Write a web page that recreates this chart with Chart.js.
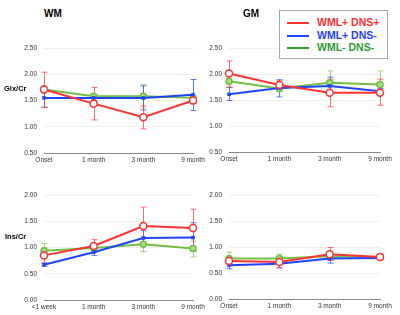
<!DOCTYPE html>
<html><head><meta charset="utf-8">
<script src="https://cdn.jsdelivr.net/npm/chart.js@4.4.0/dist/chart.umd.min.js"></script>
<style>
body{margin:0;width:400px;height:315px;background:#fff;position:relative;overflow:hidden;font-family:"Liberation Sans",Arial,sans-serif;}
.c{position:absolute;}
.t{position:absolute;font-weight:bold;color:#000;white-space:nowrap;line-height:1;}
#leg{position:absolute;left:279px;top:10px;width:107px;height:47px;border:1px solid #a8a8a8;background:#fff;}
.li{position:absolute;left:7px;width:22px;height:2px;}
.lt{position:absolute;left:37px;font-weight:bold;font-size:10.5px;line-height:1;white-space:nowrap;}
</style></head><body>
<div class="c" style="left:0;top:30px;width:215px;height:140px"><canvas id="c1"></canvas></div>
<div class="c" style="left:200px;top:30px;width:200px;height:140px"><canvas id="c2"></canvas></div>
<div class="c" style="left:0;top:180px;width:215px;height:135px"><canvas id="c3"></canvas></div>
<div class="c" style="left:200px;top:180px;width:200px;height:135px"><canvas id="c4"></canvas></div>
<div class="t" style="left:44px;top:9px;font-size:10px">WM</div>
<div class="t" style="left:243px;top:9px;font-size:10px">GM</div>
<div class="t" style="left:4px;top:85px;font-size:7.5px">Glx/Cr</div>
<div class="t" style="left:5px;top:233px;font-size:7.5px">Ins/Cr</div>
<div id="leg">
  <div class="li" style="top:11px;background:#ff3333"></div><div class="lt" style="top:6px;color:#ff2f2f">WML+ DNS+</div>
  <div class="li" style="top:24px;background:#2244ff"></div><div class="lt" style="top:19px;color:#1f3fff">WML+ DNS-</div>
  <div class="li" style="top:36px;background:#339933"></div><div class="lt" style="top:31px;color:#2e9a36">WML- DNS-</div>
</div>
<script>
// categories
const catsGlx = ["Onset", "1 month", "3 month", "9 month"];
const catsInsWM = ["<1 week", "1 month", "3 month", "9 month"];
const catsInsGM = ["Onset", "1 month", "3 month", "9 month"];
const seriesNames = ["WML+ DNS+", "WML+ DNS-", "WML- DNS-"];

// WM Glx/Cr
const wmGlxRed = [1.71, 1.44, 1.18, 1.50];
const wmGlxRedHi = [2.04, 1.75, 1.40, 1.56];
const wmGlxRedLo = [1.37, 1.13, 0.96, 1.44];
const wmGlxBlue = [1.55, 1.55, 1.55, 1.61];
const wmGlxBlueHi = [1.70, 1.60, 1.78, 1.90];
const wmGlxBlueLo = [1.37, 1.50, 1.32, 1.31];
const wmGlxGreen = [1.71, 1.58, 1.58, 1.55];
const wmGlxGreenHi = [1.78, 1.62, 1.80, 1.60];
const wmGlxGreenLo = [1.64, 1.54, 1.36, 1.50];

// GM Glx/Cr
const gmGlxRed = [2.01, 1.79, 1.64, 1.64];
const gmGlxRedHi = [2.25, 1.87, 1.90, 1.90];
const gmGlxRedLo = [1.75, 1.71, 1.37, 1.40];
const gmGlxBlue = [1.61, 1.73, 1.77, 1.67];
const gmGlxBlueHi = [1.74, 1.89, 1.94, 1.72];
const gmGlxBlueLo = [1.49, 1.56, 1.62, 1.62];
const gmGlxGreen = [1.86, 1.72, 1.83, 1.80];
const gmGlxGreenHi = [1.92, 1.78, 2.06, 2.06];
const gmGlxGreenLo = [1.80, 1.66, 1.62, 1.60];

// WM Ins/Cr
const wmInsRed = [0.85, 1.03, 1.41, 1.37];
const wmInsRedHi = [0.99, 1.15, 1.77, 1.73];
const wmInsRedLo = [0.71, 0.91, 1.05, 1.01];
const wmInsBlue = [0.67, 0.91, 1.18, 1.19];
const wmInsBlueHi = [0.70, 0.96, 1.32, 1.47];
const wmInsBlueLo = [0.64, 0.85, 1.05, 0.93];
const wmInsGreen = [0.94, 0.99, 1.06, 0.98];
const wmInsGreenHi = [1.08, 1.06, 1.20, 1.12];
const wmInsGreenLo = [0.80, 0.92, 0.92, 0.82];

// GM Ins/Cr
const gmInsRed = [0.73, 0.71, 0.86, 0.81];
const gmInsRedHi = [0.80, 0.78, 0.99, 0.86];
const gmInsRedLo = [0.66, 0.60, 0.74, 0.76];
const gmInsBlue = [0.65, 0.68, 0.78, 0.79];
const gmInsBlueHi = [0.70, 0.75, 0.84, 0.83];
const gmInsBlueLo = [0.58, 0.60, 0.69, 0.75];
const gmInsGreen = [0.78, 0.78, 0.82, 0.81];
const gmInsGreenHi = [0.90, 0.86, 0.90, 0.85];
const gmInsGreenLo = [0.68, 0.70, 0.74, 0.77];

const RED = "#ff3333", BLUE = "#1f44ff", GREEN = "#72bf44";

const errPlugin = {
  id: "errbars",
  beforeDatasetsDraw(chart) {
    const ctx = chart.ctx, xs = chart.scales.x, ys = chart.scales.y;
    ctx.save();
    chart.data.datasets.slice().reverse().forEach(ds => {
      ctx.strokeStyle = ds.errColor;
      ctx.lineWidth = 1;
      ds.data.forEach((v, i) => {
        const x = Math.round(xs.getPixelForValue(i)) + 0.5;
        const yh = ys.getPixelForValue(ds.hi[i]);
        const yl = ys.getPixelForValue(ds.lo[i]);
        ctx.beginPath();
        ctx.moveTo(x, yh); ctx.lineTo(x, yl);
        ctx.moveTo(x - 3, yh); ctx.lineTo(x + 3, yh);
        ctx.moveTo(x - 3, yl); ctx.lineTo(x + 3, yl);
        ctx.stroke();
      });
    });
    ctx.restore();
  }
};

function mk(id, cats, red, redHi, redLo, blue, blueHi, blueLo, green, greenHi, greenLo,
            yMin, yMax, yW, padR, padT, xH) {
  new Chart(document.getElementById(id), {
    type: "line",
    data: {
      labels: cats,
      datasets: [
        { label: seriesNames[0], data: red, hi: redHi, lo: redLo, borderColor: RED, borderWidth: 2,
          errColor: "rgba(255,60,60,0.75)", pointStyle: "circle", pointRadius: 3.5, pointBorderWidth: 1.5,
          pointBorderColor: RED, pointBackgroundColor: "#fff", clip: false, tension: 0 },
        { label: seriesNames[1], data: blue, hi: blueHi, lo: blueLo, borderColor: BLUE, borderWidth: 2,
          errColor: "rgba(40,80,255,0.75)", pointStyle: "rect", pointRadius: 2.5, pointBorderWidth: 0,
          pointBackgroundColor: BLUE, clip: false, tension: 0 },
        { label: seriesNames[2], data: green, hi: greenHi, lo: greenLo, borderColor: GREEN, borderWidth: 2,
          errColor: "rgba(120,195,80,0.7)", pointStyle: "circle", pointRadius: 3, pointBorderWidth: 1.5,
          pointBorderColor: GREEN, pointBackgroundColor: "#a9dc8a", clip: false, tension: 0 }
      ]
    },
    options: {
      responsive: true, maintainAspectRatio: false, animation: false,
      devicePixelRatio: 1,
      layout: { autoPadding: false, padding: { left: 0, right: padR, top: padT, bottom: 0 } },
      plugins: { legend: { display: false }, tooltip: { enabled: false } },
      scales: {
        x: {
          offset: false,
          grid: { display: false, drawTicks: false },
          border: { display: true, color: "#8a8a8a", width: 1 },
          ticks: { color: "#333", font: { family: "Liberation Sans", size: 6.5 }, padding: 3, maxRotation: 0, autoSkip: false },
          afterFit(s) { s.height = xH; s.paddingLeft = 0; s.paddingRight = 0; }
        },
        y: {
          min: yMin, max: yMax,
          grid: { color: "#efefef", drawTicks: false },
          border: { display: false },
          ticks: { stepSize: 0.5, color: "#333", font: { family: "Liberation Sans", size: 6.5 }, padding: 7,
                   callback: v => Number(v).toFixed(2) },
          afterFit(s) { s.width = yW; s.paddingTop = 0; s.paddingBottom = 0; }
        }
      }
    },
    plugins: [errPlugin]
  });
}

mk("c1", catsGlx, wmGlxRed, wmGlxRedHi, wmGlxRedLo, wmGlxBlue, wmGlxBlueHi, wmGlxBlueLo,
   wmGlxGreen, wmGlxGreenHi, wmGlxGreenLo, 0.5, 2.5, 44, 22, 18, 17);
mk("c2", catsGlx, gmGlxRed, gmGlxRedHi, gmGlxRedLo, gmGlxBlue, gmGlxBlueHi, gmGlxBlueLo,
   gmGlxGreen, gmGlxGreenHi, gmGlxGreenLo, 0.5, 2.5, 29, 20, 18, 18);
mk("c3", catsInsWM, wmInsRed, wmInsRedHi, wmInsRedLo, wmInsBlue, wmInsBlueHi, wmInsBlueLo,
   wmInsGreen, wmInsGreenHi, wmInsGreenLo, 0, 2, 44, 22, 15, 15);
mk("c4", catsInsGM, gmInsRed, gmInsRedHi, gmInsRedLo, gmInsBlue, gmInsBlueHi, gmInsBlueLo,
   gmInsGreen, gmInsGreenHi, gmInsGreenLo, 0, 2, 29, 20, 15, 16);
</script>
</body></html>
